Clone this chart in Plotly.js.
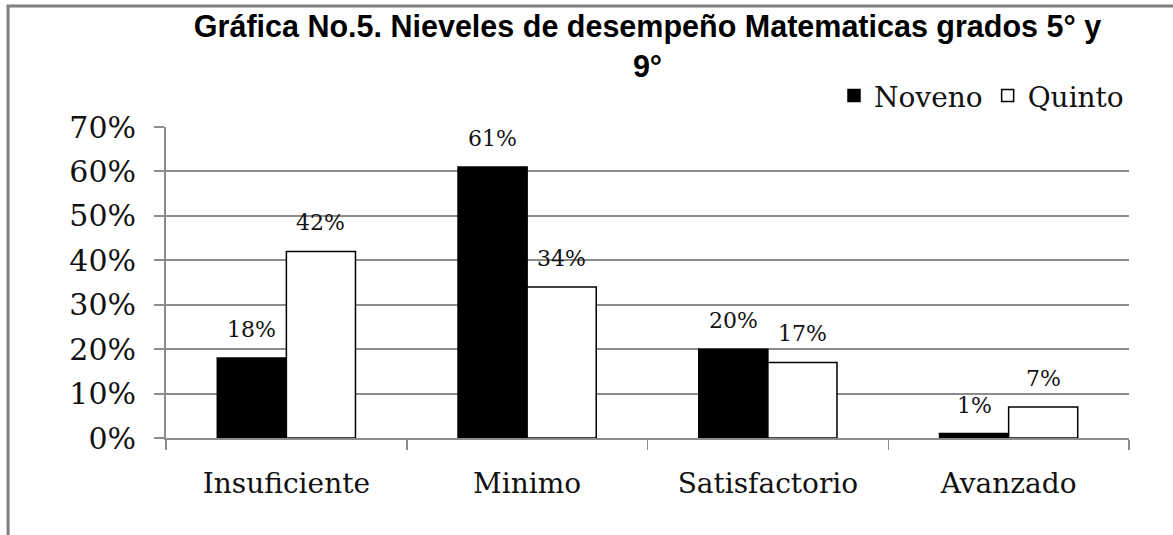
<!DOCTYPE html>
<html>
<head>
<meta charset="utf-8">
<script src="https://cdn.plot.ly/plotly-3.0.1.min.js"></script>
<style>
  html, body { margin: 0; padding: 0; background: #fff; }
  #chart { width: 1173px; height: 535px; }
</style>
</head>
<body>
<div id="chart"></div>
<script>
// Niveles de desempeño - Matematicas 5° y 9°
const categories = ['Insuficiente', 'Minimo', 'Satisfactorio', 'Avanzado'];
const noveno = [0.18, 0.61, 0.20, 0.01];
const quinto = [0.42, 0.34, 0.17, 0.07];
const seriesNames = ['Noveno', 'Quinto'];

const serif = 'DejaVu Serif, serif';
const gridColor = '#8c8c8c';

const barNoveno = {
    x: categories,
    y: noveno,
    type: 'bar',
    name: seriesNames[0],
    marker: { color: '#000000', line: { color: '#000000', width: 1.5 } },
    hoverinfo: 'none'
};

const barQuinto = {
    x: categories,
    y: quinto,
    type: 'bar',
    name: seriesNames[1],
    marker: { color: '#ffffff', line: { color: '#000000', width: 1.5 } },
    hoverinfo: 'none'
};

// value labels above each bar (half a bar width to the left / right)
const halfBar = 34.5;
const annotations = [];
[[noveno, -halfBar], [quinto, halfBar]].forEach(([vals, shift]) => {
    vals.forEach((v, i) => {
        annotations.push({
            x: categories[i],
            y: v,
            xref: 'x',
            yref: 'y',
            text: Math.round(v * 100) + '%',
            showarrow: false,
            xshift: shift,
            yshift: 14,
            yanchor: 'bottom',
            font: { family: serif, size: 22, color: '#111' }
        });
    });
});

const layout = {
    width: 1173,
    height: 535,
    paper_bgcolor: '#ffffff',
    plot_bgcolor: '#ffffff',
    margin: { t: 127, r: 44, b: 97, l: 166 },
    barmode: 'group',
    bargap: 0.426,
    bargroupgap: 0,
    title: {
        text: 'Gráfica No.5. Nieveles de desempeño Matematicas grados 5° y<br>9°',
        font: { family: 'Liberation Sans, Arial, sans-serif', size: 30.5, weight: 'bold', color: '#000' },
        x: 0.552,
        xanchor: 'center',
        xref: 'container',
        y: 0.93,
        yref: 'container',
        yanchor: 'top'
    },
    showlegend: true,
    legend: {
        orientation: 'h',
        x: 1.0,
        xanchor: 'right',
        y: 1.10,
        yanchor: 'middle',
        font: { family: serif, size: 28, color: '#111' },
        itemclick: false
    },
    xaxis: {
        type: 'category',
        showgrid: false,
        zeroline: false,
        showline: true,
        linecolor: gridColor,
        linewidth: 2,
        ticks: 'outside',
        tickson: 'boundaries',
        ticklen: 10,
        tickcolor: gridColor,
        tickwidth: 1.5,
        ticklabelstandoff: 19,
        tickfont: { family: serif, size: 28, color: '#111' }
    },
    yaxis: {
        range: [0, 0.7],
        dtick: 0.1,
        tickformat: '.0%',
        showgrid: true,
        gridcolor: gridColor,
        gridwidth: 2,
        zeroline: false,
        showline: true,
        linecolor: gridColor,
        linewidth: 2,
        ticks: 'outside',
        ticklen: 10,
        tickcolor: gridColor,
        tickwidth: 2,
        ticklabelstandoff: 12,
        tickfont: { family: serif, size: 30, color: '#111' }
    },
    shapes: [{
        // outer frame of the figure
        type: 'rect',
        xref: 'paper',
        yref: 'paper',
        x0: -0.164,
        x1: 1.2,
        y0: -0.6,
        y1: 1.389,
        line: { color: '#7f7f7f', width: 3 },
        layer: 'below'
    }],
    annotations: annotations
};

Plotly.newPlot('chart', [barNoveno, barQuinto], layout, { displayModeBar: false, staticPlot: true });
</script>
</body>
</html>
